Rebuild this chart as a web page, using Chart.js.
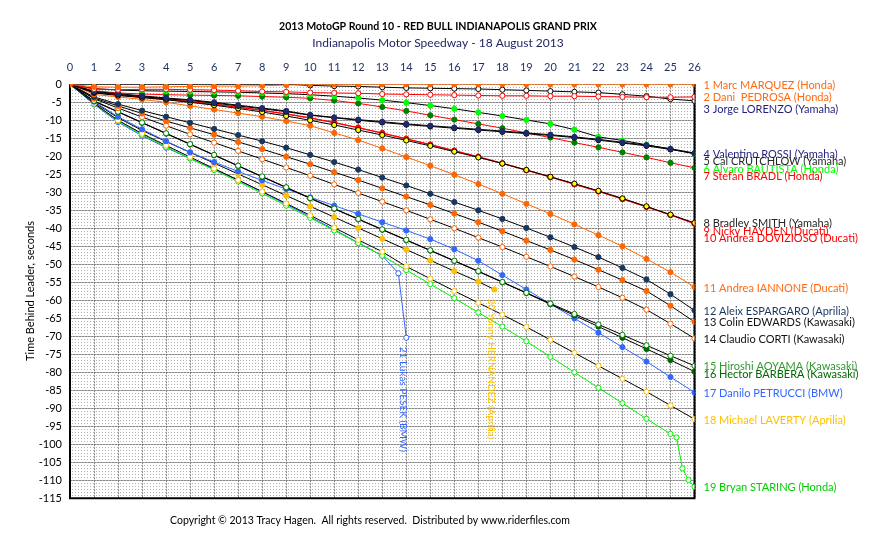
<!DOCTYPE html>
<html><head><meta charset="utf-8">
<script src="https://cdn.jsdelivr.net/npm/chart.js@4.4.0/dist/chart.umd.min.js"></script>
<style>html,body{margin:0;padding:0;background:#fff}#c{display:block}</style>
</head><body>
<canvas id="c" width="876" height="543"></canvas>
<script>
// ---------- DATA ----------
const laps = [0,1,2,3,4,5,6,7,8,9,10,11,12,13,14,15,16,17,18,19,20,21,22,23,24,25,26];
const riderNames = [
 "1 Marc MARQUEZ (Honda)","2 Dani  PEDROSA (Honda)","3 Jorge LORENZO (Yamaha)","4 Valentino ROSSI (Yamaha)",
 "5 Cal CRUTCHLOW (Yamaha)","6 Alvaro BAUTISTA (Honda)","7 Stefan BRADL (Honda)","8 Bradley SMITH (Yamaha)",
 "9 Nicky HAYDEN (Ducati)","10 Andrea DOVIZIOSO (Ducati)","11 Andrea IANNONE (Ducati)","12 Aleix ESPARGARO (Aprilia)",
 "13 Colin EDWARDS (Kawasaki)","14 Claudio CORTI (Kawasaki)","15 Hiroshi AOYAMA (Kawasaki)","16 Hector BARBERA (Kawasaki)",
 "17 Danilo PETRUCCI (BMW)","18 Michael LAVERTY (Aprilia)","19 Bryan STARING (Honda)","20 Yonny HERNANDEZ (Aprilia)","21 Lukas PESEK (BMW)"];
const marquez   = [0,-0.7,-0.8,-0.8,-0.7,-0.6,-0.5,-0.5,-0.4,-0.2,0,0,0,0,0,0,0,0,0,0,0,0,0,0,0,0,0];
const pedrosa   = [0,-1.3,-1.5,-1.4,-1.4,-1.5,-1.6,-1.8,-2.0,-2.1,-2.3,-2.4,-2.5,-2.7,-2.8,-2.9,-3.0,-3.1,-3.2,-3.2,-3.3,-3.3,-3.4,-3.5,-3.6,-3.6,-3.5];
const lorenzo   = [0,0,0,0,0,0,0,0,0,0,-0.3,-0.5,-0.6,-0.8,-1.0,-1.1,-1.2,-1.3,-1.5,-1.7,-1.9,-2.1,-2.3,-2.8,-3.3,-4.1,-4.6];
const rossi     = [0,-2.0,-2.6,-3.2,-3.8,-4.3,-5.0,-5.8,-6.6,-7.4,-8.5,-9.2,-9.8,-10.4,-11.0,-11.5,-12.0,-12.5,-13.0,-13.5,-14.0,-14.6,-15.3,-16.1,-16.9,-17.9,-19.1];
const crutchlow = [0,-2.2,-2.8,-3.4,-4.0,-4.5,-5.2,-6.0,-6.8,-7.6,-8.6,-9.3,-10.0,-10.6,-11.2,-11.7,-12.2,-12.7,-13.2,-13.7,-14.2,-14.8,-15.5,-16.3,-17.1,-18.1,-19.2];
const bautista  = [0,-1.2,-1.6,-1.8,-1.9,-2.0,-2.1,-2.2,-2.4,-2.6,-2.9,-3.3,-3.8,-4.4,-5.1,-5.9,-6.8,-7.8,-8.8,-9.9,-11.0,-12.6,-14.6,-15.6,-16.8,-18.0,-19.3];
const bradl     = [0,-1.8,-2.4,-2.7,-2.9,-3.0,-3.1,-3.2,-3.4,-3.6,-3.9,-4.5,-5.3,-6.3,-7.4,-8.6,-9.8,-11.0,-12.2,-13.5,-14.8,-16.2,-17.5,-18.9,-20.3,-21.8,-23.2];
const smith     = [0,-2.4,-3.1,-3.7,-4.3,-5.0,-5.8,-6.7,-7.7,-8.8,-10.0,-11.3,-12.7,-14.1,-15.6,-17.1,-18.7,-20.3,-22.0,-23.8,-25.7,-27.6,-29.6,-31.7,-33.9,-36.2,-38.5];
const hayden    = [0,-2.3,-3.0,-3.6,-4.2,-4.9,-5.6,-6.4,-7.3,-8.3,-9.4,-10.7,-12.1,-13.6,-15.2,-16.8,-18.5,-20.2,-22.0,-23.9,-25.8,-27.8,-29.8,-31.9,-34.1,-36.3,-38.6];
const dovizioso = [0,-2.2,-2.9,-3.5,-4.1,-4.8,-5.5,-6.3,-7.2,-8.2,-9.3,-10.6,-12.0,-13.5,-15.1,-16.7,-18.4,-20.1,-21.9,-23.8,-25.7,-27.7,-29.7,-31.8,-34.0,-36.3,-38.8];
const iannone   = [0,-2.8,-3.5,-4.2,-5.0,-6.0,-7.0,-8.0,-9.0,-10.2,-11.5,-13.5,-15.5,-17.8,-20.2,-22.6,-25.1,-27.7,-30.4,-33.2,-36.0,-38.9,-41.9,-45.0,-48.5,-52.2,-56.3];
const espargaro = [0,-3.5,-5.5,-7.3,-9.0,-10.7,-12.4,-14.1,-15.8,-17.6,-19.6,-21.6,-23.7,-25.9,-28.1,-30.4,-32.7,-35.0,-37.4,-39.9,-42.5,-45.2,-48.0,-51.0,-54.2,-58.3,-62.8];
const edwards   = [0,-3.8,-6.0,-8.1,-10.2,-12.1,-14.0,-16.0,-18.0,-20.1,-22.2,-24.4,-26.6,-28.9,-31.2,-33.5,-35.9,-38.3,-40.8,-43.4,-46.0,-48.7,-51.5,-54.4,-57.4,-61.5,-66.0];
const corti     = [0,-4.0,-6.6,-9.1,-11.5,-13.9,-16.2,-18.5,-20.8,-23.1,-25.4,-27.8,-30.2,-32.6,-35.0,-37.5,-40.0,-42.6,-45.2,-47.9,-50.6,-53.4,-56.3,-59.3,-62.6,-66.5,-70.6];
const aoyama    = [0,-4.6,-7.6,-10.6,-13.6,-16.6,-19.6,-22.6,-25.6,-28.6,-31.6,-34.5,-37.4,-40.3,-43.2,-46.1,-49.0,-51.9,-54.9,-57.9,-60.9,-63.8,-66.7,-69.6,-72.5,-75.4,-78.2];
const barbera   = [0,-4.7,-7.7,-10.7,-13.7,-16.7,-19.7,-22.7,-25.7,-28.7,-31.7,-34.6,-37.5,-40.4,-43.3,-46.2,-49.1,-52.0,-55.0,-58.0,-61.1,-64.2,-67.3,-70.4,-73.5,-76.6,-79.8];
const petrucci  = [0,-4.8,-9.0,-12.5,-15.8,-18.9,-21.6,-24.2,-26.7,-29.1,-31.4,-33.7,-36.0,-38.3,-40.6,-43.0,-45.8,-49.0,-53.0,-57.0,-61.0,-65.0,-69.0,-73.0,-77.0,-81.3,-85.6];
const laverty   = [0,-5.3,-10.0,-13.7,-17.0,-20.2,-23.4,-26.6,-29.8,-33.1,-36.4,-39.8,-43.2,-46.5,-50.6,-54.0,-57.4,-60.7,-64.0,-67.4,-71.0,-74.6,-78.2,-81.8,-85.4,-89.2,-93.0];
const staringLaps = [0,1,2,3,4,5,6,7,8,9,10,11,12,13,14,15,16,17,18,19,20,21,22,23,24,25,25.25,25.5,25.75,26];
const staring   = [0,-5.4,-10.2,-14.0,-17.4,-20.6,-23.8,-27.0,-30.3,-33.7,-37.1,-40.6,-44.1,-47.6,-51.6,-55.5,-59.4,-63.4,-67.3,-71.4,-75.7,-80.0,-84.3,-88.6,-92.9,-97.1,-98.1,-106.7,-109.9,-111.8];
const hernandezLaps = [0,1,2,3,4,5,6,7,8,9,10,11,12,13,14,15,16,17,17.67];
const hernandez = [0,-5.0,-9.3,-12.8,-15.9,-18.9,-21.9,-24.9,-27.9,-30.9,-33.9,-36.9,-39.9,-42.9,-45.9,-48.9,-51.9,-54.8,-57.0];
const pesekLaps = [0,1,2,3,4,5,6,7,8,9,10,11,12,13,13.67,14];
const pesek     = [0,-5.6,-10.5,-14.3,-17.6,-20.6,-23.6,-26.6,-29.9,-33.3,-36.8,-40.4,-44.0,-47.6,-52.5,-70.4];
const xTicks = [0,1,2,3,4,5,6,7,8,9,10,11,12,13,14,15,16,17,18,19,20,21,22,23,24,25,26];
const yTicks = [0,-5,-10,-15,-20,-25,-30,-35,-40,-45,-50,-55,-60,-65,-70,-75,-80,-85,-90,-95,-100,-105,-110,-115];

const seriesValues = [marquez,pedrosa,lorenzo,rossi,crutchlow,bautista,bradl,smith,hayden,dovizioso,iannone,espargaro,edwards,corti,aoyama,barbera,petrucci,laverty,staring,hernandez,pesek];
const seriesLaps = seriesValues.map((v,i)=> i===18?staringLaps : i===19?hernandezLaps : i===20?pesekLaps : laps);

// ---------- STYLES ----------
const styles = [
 {line:'#ff6600',b:'#ff6600',f:'#ff6600',t:'#ff6a13'},
 {line:'#ff0000',b:'#ff0000',f:'#ffffff',t:'#ff6a13'},
 {line:'#000000',b:'#000000',f:'#ffffff',t:'#1f1f7a'},
 {line:'#000000',b:'#1f2a6e',f:'#1f2a6e',t:'#1f1f7a'},
 {line:'#000000',b:'#000000',f:'#000000',t:'#262626'},
 {line:'#000000',b:'#00ff00',f:'#00ff00',t:'#00ff00'},
 {line:'#ff0000',b:'#008000',f:'#008000',t:'#ff0000'},
 {line:'#000000',b:'#000000',f:'#ffff00',t:'#262626'},
 {line:'#ff0000',b:'#ff0000',f:'#ff0000',t:'#ff0000'},
 {line:'#ff0000',b:'#ff0000',f:'#ffffff',t:'#ff0000'},
 {line:'#ff6600',b:'#ff6600',f:'#ff6600',t:'#ff6a13'},
 {line:'#000000',b:'#17375e',f:'#17375e',t:'#17375e'},
 {line:'#000000',b:'#ff6600',f:'#ff6600',t:'#111111'},
 {line:'#000000',b:'#ff6600',f:'#ffffff',t:'#111111'},
 {line:'#000000',b:'#008000',f:'#ffffff',t:'#339933'},
 {line:'#000000',b:'#006600',f:'#006600',t:'#006600'},
 {line:'#3366ff',b:'#3366ff',f:'#3366ff',t:'#3366ff'},
 {line:'#000000',b:'#ffc000',f:'#ffffff',t:'#ffc000'},
 {line:'#00ee00',b:'#00ee00',f:'#ffffff',t:'#00cc00'},
 {line:'#000000',b:'#ffc000',f:'#ffc000',t:'#ffc000'},
 {line:'#3366ff',b:'#3366ff',f:'#ffffff',t:'#3366ff'}
];
const FONT = 'Lato, "Open Sans", sans-serif';

const datasets = seriesValues.map((vals,i)=>({
  label: riderNames[i],
  data: vals.map((v,k)=>({x:seriesLaps[i][k], y:v})),
  borderColor: styles[i].line, borderWidth: 1,
  pointBackgroundColor: styles[i].f, pointBorderColor: styles[i].b,
  pointBorderWidth: 1, pointRadius: 2.6, pointHoverRadius: 2.6,
  tension: 0, fill: false
}));

// background dotted pattern
const pc = document.createElement('canvas'); pc.width = 3; pc.height = 3;
const pctx = pc.getContext('2d');
pctx.fillStyle = '#ffffff'; pctx.fillRect(0,0,3,3);
pctx.fillStyle = '#b0b0b0'; pctx.fillRect(0,0,1,1);

const decor = {
  id:'decor',
  beforeDatasetsDraw(chart){
    const {ctx, chartArea:a, scales:{x,y}} = chart;
    ctx.save();
    ctx.fillStyle = ctx.createPattern(pc,'repeat');
    ctx.fillRect(a.left,a.top,a.right-a.left,a.bottom-a.top);
    ctx.strokeStyle = '#888888'; ctx.lineWidth = 1; ctx.setLineDash([2,1]);
    xTicks.forEach(v=>{ const px=Math.round(x.getPixelForValue(v))+0.5; ctx.beginPath(); ctx.moveTo(px,a.top); ctx.lineTo(px,a.bottom); ctx.stroke(); });
    yTicks.forEach(v=>{ const py=Math.round(y.getPixelForValue(v))+0.5; ctx.beginPath(); ctx.moveTo(a.left,py); ctx.lineTo(a.right,py); ctx.stroke(); });
    ctx.setLineDash([]);
    ctx.strokeStyle = '#000000'; ctx.lineWidth = 2;
    ctx.beginPath();
    ctx.moveTo(a.left,a.top); ctx.lineTo(a.left,a.bottom); ctx.lineTo(a.right,a.bottom); ctx.lineTo(a.right,a.top);
    ctx.stroke();
    ctx.restore();
  },
  afterDatasetsDraw(chart){
    const {ctx, chartArea:a, scales:{x,y}} = chart;
    ctx.save();
    ctx.font = '11px ' + FONT; ctx.textBaseline = 'middle'; ctx.textAlign = 'left';
    let prev = -1e9;
    for(let i=0;i<19;i++){
      const vals = seriesValues[i];
      let py = y.getPixelForValue(vals[vals.length-1]);
      if(py < prev + 7.5) py = prev + 7.5;
      if(i===2) py += 4;
      prev = py;
      ctx.fillStyle = styles[i].t;
      ctx.fillText(riderNames[i], a.right + 9, py + 1);
    }
    [19,20].forEach(i=>{
      const xs = seriesLaps[i], vals = seriesValues[i];
      const px = x.getPixelForValue(xs[xs.length-1]);
      const py = y.getPixelForValue(vals[vals.length-1]);
      ctx.save();
      ctx.translate(px - 3, py + 9);
      ctx.rotate(Math.PI/2);
      ctx.font = '10px ' + FONT;
      ctx.fillStyle = styles[i].t; ctx.textAlign='left'; ctx.textBaseline='middle';
      ctx.fillText(riderNames[i], 0, 0);
      ctx.restore();
    });
    ctx.restore();
  },
  afterDraw(chart){
    const ctx = chart.ctx;
    ctx.save();
    ctx.textAlign = 'center'; ctx.textBaseline = 'middle';
    ctx.fillStyle = '#000000'; ctx.font = 'bold 10.6px ' + FONT;
    ctx.fillText('2013 MotoGP Round 10 - RED BULL INDIANAPOLIS GRAND PRIX', 438, 27);
    ctx.fillStyle = '#1f1f5f'; ctx.font = '12px ' + FONT;
    ctx.fillText('Indianapolis Motor Speedway - 18 August 2013', 438, 43);
    ctx.fillStyle = '#000000'; ctx.font = '10.5px ' + FONT;
    ctx.fillText('Copyright \u00A9 2013 Tracy Hagen.  All rights reserved.  Distributed by www.riderfiles.com', 370, 521);
    ctx.translate(30, 291); ctx.rotate(-Math.PI/2);
    ctx.font = '11px ' + FONT;
    ctx.fillText('Time Behind Leader, seconds', 0, 0);
    ctx.restore();
  }
};

new Chart(document.getElementById('c'), {
  type:'line',
  data:{datasets},
  options:{
    responsive:false, animation:false, events:[],
    layout:{padding:{top:60,left:0,right:181.5,bottom:44.7}},
    plugins:{legend:{display:false}, tooltip:{enabled:false}, title:{display:false}},
    scales:{
      x:{type:'linear', position:'top', min:0, max:26,
         afterFit(s){ s.height = 24.3; },
         afterBuildTicks(s){ s.ticks = xTicks.map(v=>({value:v})); },
         grid:{display:false, drawTicks:false}, border:{display:false},
         ticks:{color:'#1f2f5f', font:{family:FONT,size:11}, padding:10, maxRotation:0, autoSkip:false}},
      y:{type:'linear', min:-115, max:0,
         afterFit(s){ s.width = 70; },
         afterBuildTicks(s){ s.ticks = yTicks.map(v=>({value:v})); },
         grid:{display:false, drawTicks:false}, border:{display:false},
         ticks:{color:'#000000', font:{family:FONT,size:11}, padding:8, autoSkip:false}}
    }
  },
  plugins:[decor]
});
</script>
</body></html>
